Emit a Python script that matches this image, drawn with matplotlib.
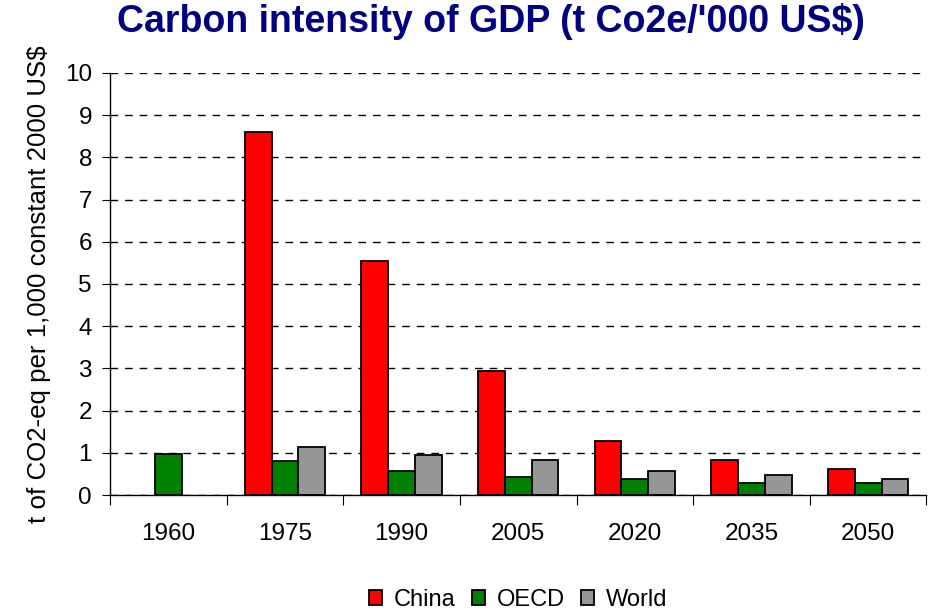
import numpy as np
import matplotlib
matplotlib.use("Agg")
import matplotlib.pyplot as plt

plt.rcParams['font.family'] = ['Liberation Sans', 'DejaVu Sans']

years = ['1960', '1975', '1990', '2005', '2020', '2035', '2050']
china = [np.nan, 8.59, 5.55, 2.95, 1.28, 0.82, 0.62]
oecd = [0.97, 0.81, 0.57, 0.43, 0.38, 0.28, 0.28]
world = [np.nan, 1.14, 0.95, 0.82, 0.58, 0.48, 0.39]

fig = plt.figure(figsize=(9.32, 6.12), dpi=100)
ax = fig.add_axes([0.118, 0.191, 0.876, 0.69])

x = np.arange(len(years))
w = 0.23
ec = dict(edgecolor='black', linewidth=1.3)


def draw(vals, off, color, name):
    v = np.array(vals, dtype=float)
    ok = ~np.isnan(v)
    ax.bar(x[ok] + off, v[ok], w, color=color, label=name, **ec)


draw(china, -w, '#ff0000', 'China')
draw(oecd, 0, '#008000', 'OECD')
draw(world, w, '#969696', 'World')

ax.set_xlim(-0.5, len(years) - 0.5)
ax.set_ylim(0, 10)
ax.set_yticks(range(0, 11))
ax.yaxis.grid(True, color='black', linestyle=(0, (5.5, 5)), linewidth=1.0)
ax.set_axisbelow(True)

# category ticks sit on the boundaries, labels in the middle
ax.set_xticks(np.arange(len(years) + 1) - 0.5)
ax.set_xticklabels([])
ax.set_xticks(x, minor=True)
ax.set_xticklabels(years, minor=True)
ax.tick_params(axis='x', which='minor', length=0, pad=20, labelsize=17.5)
ax.tick_params(axis='x', which='major', length=7, direction='out')
ax.tick_params(axis='y', length=6, labelsize=17.5, pad=7)

for s in ['top', 'right']:
    ax.spines[s].set_visible(False)
ax.spines['left'].set_linewidth(1.0)
ax.spines['bottom'].set_linewidth(1.0)

ax.set_ylabel("t of CO2-eq per 1,000 constant 2000 US$", fontsize=18.6, labelpad=10)
fig.suptitle("Carbon intensity of GDP (t Co2e/'000 US$)", fontsize=27, fontweight='bold',
             color='#000080', x=0.527, y=0.995)

ax.legend(loc='center', bbox_to_anchor=(0.5, -0.248), ncol=3, frameon=False,
          fontsize=17, handlelength=0.55, handleheight=0.55, handletextpad=0.5,
          columnspacing=0.7)

fig.savefig('out.png', dpi=100)
